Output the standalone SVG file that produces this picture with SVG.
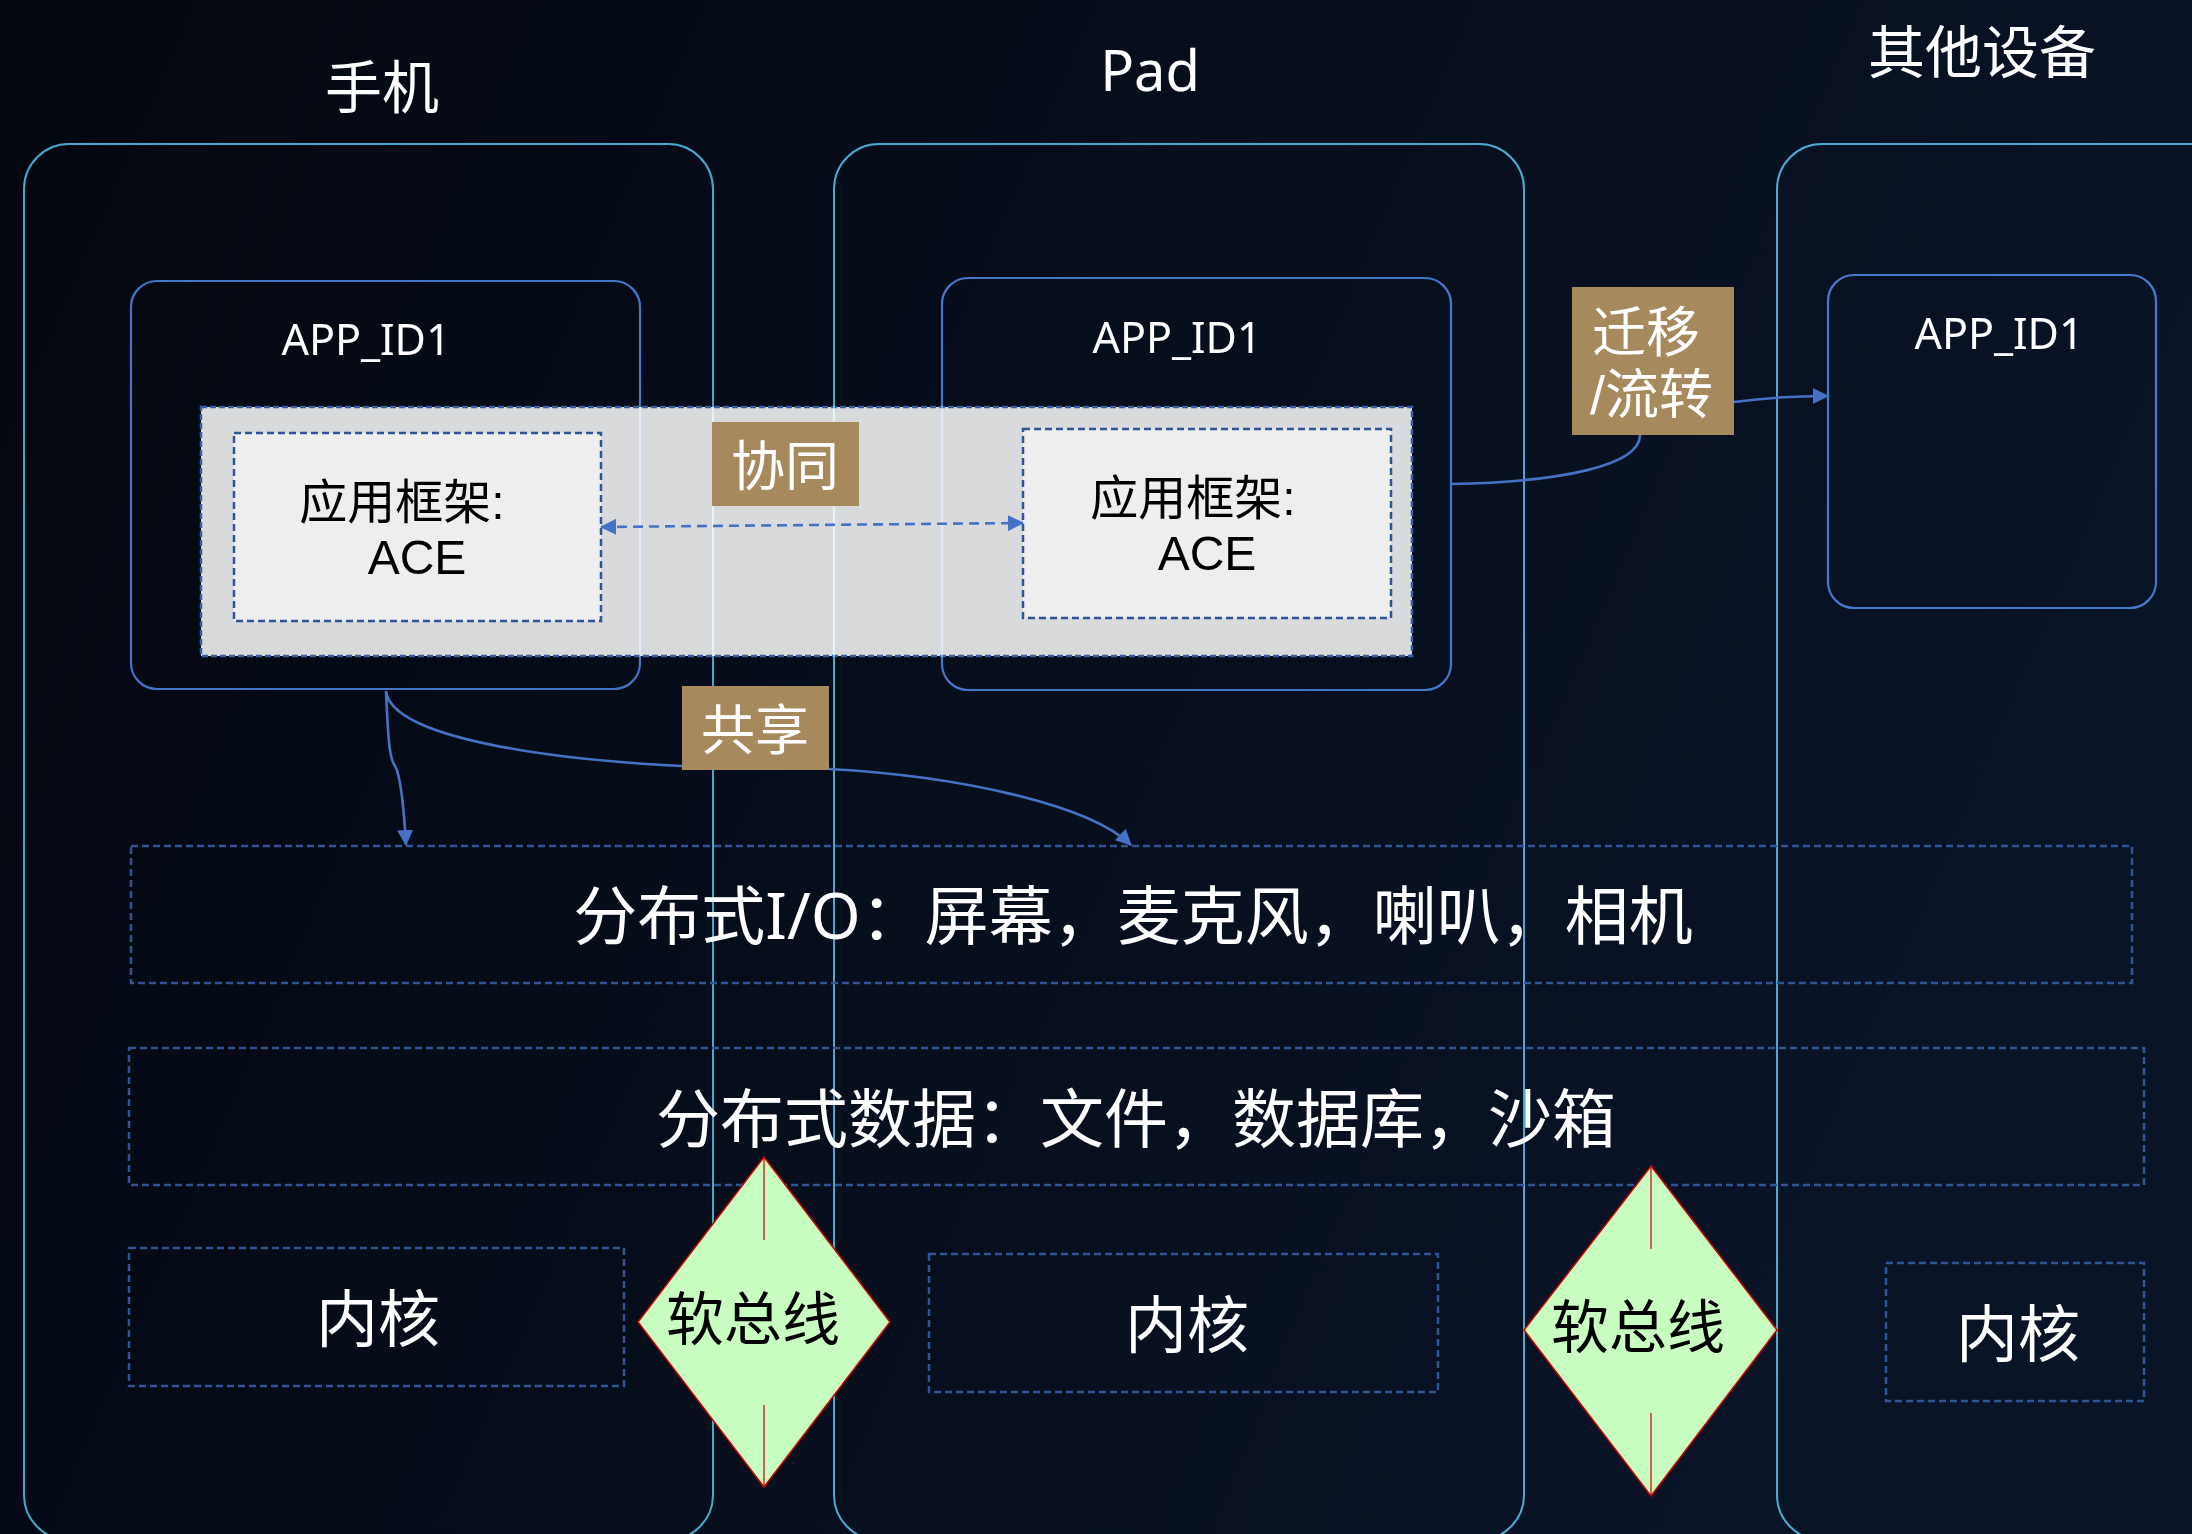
<svg xmlns="http://www.w3.org/2000/svg" width="2192" height="1534" viewBox="0 0 2192 1534">
<defs>
<linearGradient id="bg" x1="0" y1="0" x2="1" y2="0.3">
<stop offset="0" stop-color="#03070f"/>
<stop offset="1" stop-color="#0a1427"/>
</linearGradient>
<marker id="arr" viewBox="0 0 16 16" refX="15" refY="8" markerWidth="16" markerHeight="16" markerUnits="userSpaceOnUse" orient="auto-start-reverse">
<path d="M0,0 L16,8 L0,16 z" fill="#4472c4"/>
</marker>
<style>
text{font-family:"Noto Sans","Noto Sans CJK SC",sans-serif;}
text.tight{font-family:"Liberation Sans","Noto Sans CJK SC",sans-serif;}
.w{fill:#ffffff;}
.k{fill:#000000;}
.dev{fill:none;stroke:#41a5c8;stroke-width:2;mix-blend-mode:screen;}
.app{fill:none;stroke:#3d70c2;stroke-width:2.2;mix-blend-mode:screen;}
.dash{fill:none;stroke:#2f5597;stroke-width:2.5;stroke-dasharray:7 4;}
.ace{fill:#eeeeee;stroke:#2f5597;stroke-width:2.5;stroke-dasharray:7 4;}
.lbl{fill:#a68a5e;}
.conn{fill:none;stroke:#4472c4;stroke-width:2.6;}
.bus{fill:#c8ffc0;stroke:#cc0000;stroke-width:1.5;}
.red{stroke:#cc0000;stroke-width:1.2;}
</style>
</defs>
<rect x="0" y="0" width="2192" height="1534" fill="url(#bg)"/>

<g id="collab-band">
<rect x="201" y="407" width="1211" height="249" fill="#d9dadc" stroke="#3a5ca0" stroke-width="2.5" stroke-dasharray="6 3"/>
</g>
<g id="ace-phone">
<rect x="234" y="433" width="367" height="188" class="ace"/>
<text font-size="48" text-anchor="middle" class="k tight"><tspan x="402" y="519">应用框架:</tspan><tspan x="417" y="574">ACE</tspan></text>
</g>
<g id="ace-pad">
<rect x="1023" y="429" width="368" height="189" class="ace"/>
<text font-size="48" text-anchor="middle" class="k tight"><tspan x="1193" y="515">应用框架:</tspan><tspan x="1207" y="570">ACE</tspan></text>
</g>

<g id="device-phone">
<rect x="24" y="144" width="689" height="1396" rx="45" ry="45" class="dev"/>
<text x="382" y="108" font-size="57" text-anchor="middle" class="w">手机</text>
</g>
<g id="device-pad">
<rect x="834" y="144" width="690" height="1396" rx="45" ry="45" class="dev"/>
<text x="1150" y="91" font-size="56" text-anchor="middle" class="w">Pad</text>
</g>
<g id="device-other">
<rect x="1777" y="144" width="500" height="1396" rx="45" ry="45" class="dev"/>
<text x="1982" y="73" font-size="57" text-anchor="middle" class="w">其他设备</text>
</g>

<g id="app-phone">
<rect x="131" y="281" width="509" height="408" rx="26" ry="26" class="app"/>
<text x="366" y="355" font-size="43" text-anchor="middle" class="w">APP_ID1</text>
</g>
<g id="app-pad">
<rect x="942" y="278" width="509" height="412" rx="26" ry="26" class="app"/>
<text x="1177" y="353" font-size="43" text-anchor="middle" class="w">APP_ID1</text>
</g>
<g id="app-other">
<rect x="1828" y="275" width="328" height="333" rx="26" ry="26" class="app"/>
<text x="1999" y="349" font-size="43" text-anchor="middle" class="w">APP_ID1</text>
</g>

<g id="dist-io">
<rect x="131" y="846" width="2001" height="137" class="dash"/>
<text x="1133" y="939" font-size="64" text-anchor="middle" class="w">分布式I/O：屏幕，麦克风，喇叭，相机</text>
</g>
<g id="dist-data">
<rect x="129" y="1048" width="2015" height="137" class="dash"/>
<text x="1136" y="1142" font-size="64" text-anchor="middle" class="w">分布式数据：文件，数据库，沙箱</text>
</g>

<g id="kernel-phone">
<rect x="129" y="1248" width="495" height="138" class="dash"/>
<text x="378" y="1342" font-size="62" text-anchor="middle" class="w">内核</text>
</g>
<g id="kernel-pad">
<rect x="929" y="1254" width="509" height="138" class="dash"/>
<text x="1187" y="1348" font-size="62" text-anchor="middle" class="w">内核</text>
</g>
<g id="kernel-other">
<rect x="1886" y="1263" width="258" height="138" class="dash"/>
<text x="2018" y="1357" font-size="62" text-anchor="middle" class="w">内核</text>
</g>

<g id="connectors">
<path d="M601,527 L1023,523" class="conn" stroke-dasharray="10 6" marker-start="url(#arr)" marker-end="url(#arr)"/>
<path d="M386,691 C388,735 389,758 395,766 C401,776 404,810 406,845" class="conn" marker-end="url(#arr)"/>
<path d="M386,691 C392,740 560,760 682,766" class="conn"/>
<path d="M829,769 C960,776 1090,805 1131,845" class="conn" marker-end="url(#arr)"/>
<path d="M1451,484 C1560,482 1640,466 1640,435" class="conn"/>
<path d="M1734,402 C1770,397 1800,396 1828,396" class="conn" marker-end="url(#arr)"/>
</g>

<g id="label-collab">
<rect x="712" y="422" width="147" height="84" class="lbl"/>
<text x="785" y="486" font-size="54" text-anchor="middle" class="w">协同</text>
</g>
<g id="label-share">
<rect x="682" y="686" width="147" height="84" class="lbl"/>
<text x="755" y="750" font-size="54" text-anchor="middle" class="w">共享</text>
</g>
<g id="label-migrate">
<rect x="1572" y="287" width="162" height="148" class="lbl"/>
<text font-size="54" class="w tight"><tspan x="1592" y="352">迁移</tspan><tspan x="1590" y="414">/流转</tspan></text>
</g>

<g id="softbus-1">
<polygon points="764,1157 890,1322 764,1487 638,1322" class="bus"/>
<line x1="764" y1="1157" x2="764" y2="1240" class="red"/>
<line x1="764" y1="1405" x2="764" y2="1487" class="red"/>
<text x="753" y="1340" font-size="58" text-anchor="middle" class="k">软总线</text>
</g>
<g id="softbus-2">
<polygon points="1651,1166 1777,1330 1651,1496 1524,1330" class="bus"/>
<line x1="1651" y1="1166" x2="1651" y2="1249" class="red"/>
<line x1="1651" y1="1413" x2="1651" y2="1496" class="red"/>
<text x="1638" y="1348" font-size="58" text-anchor="middle" class="k">软总线</text>
</g>
</svg>
